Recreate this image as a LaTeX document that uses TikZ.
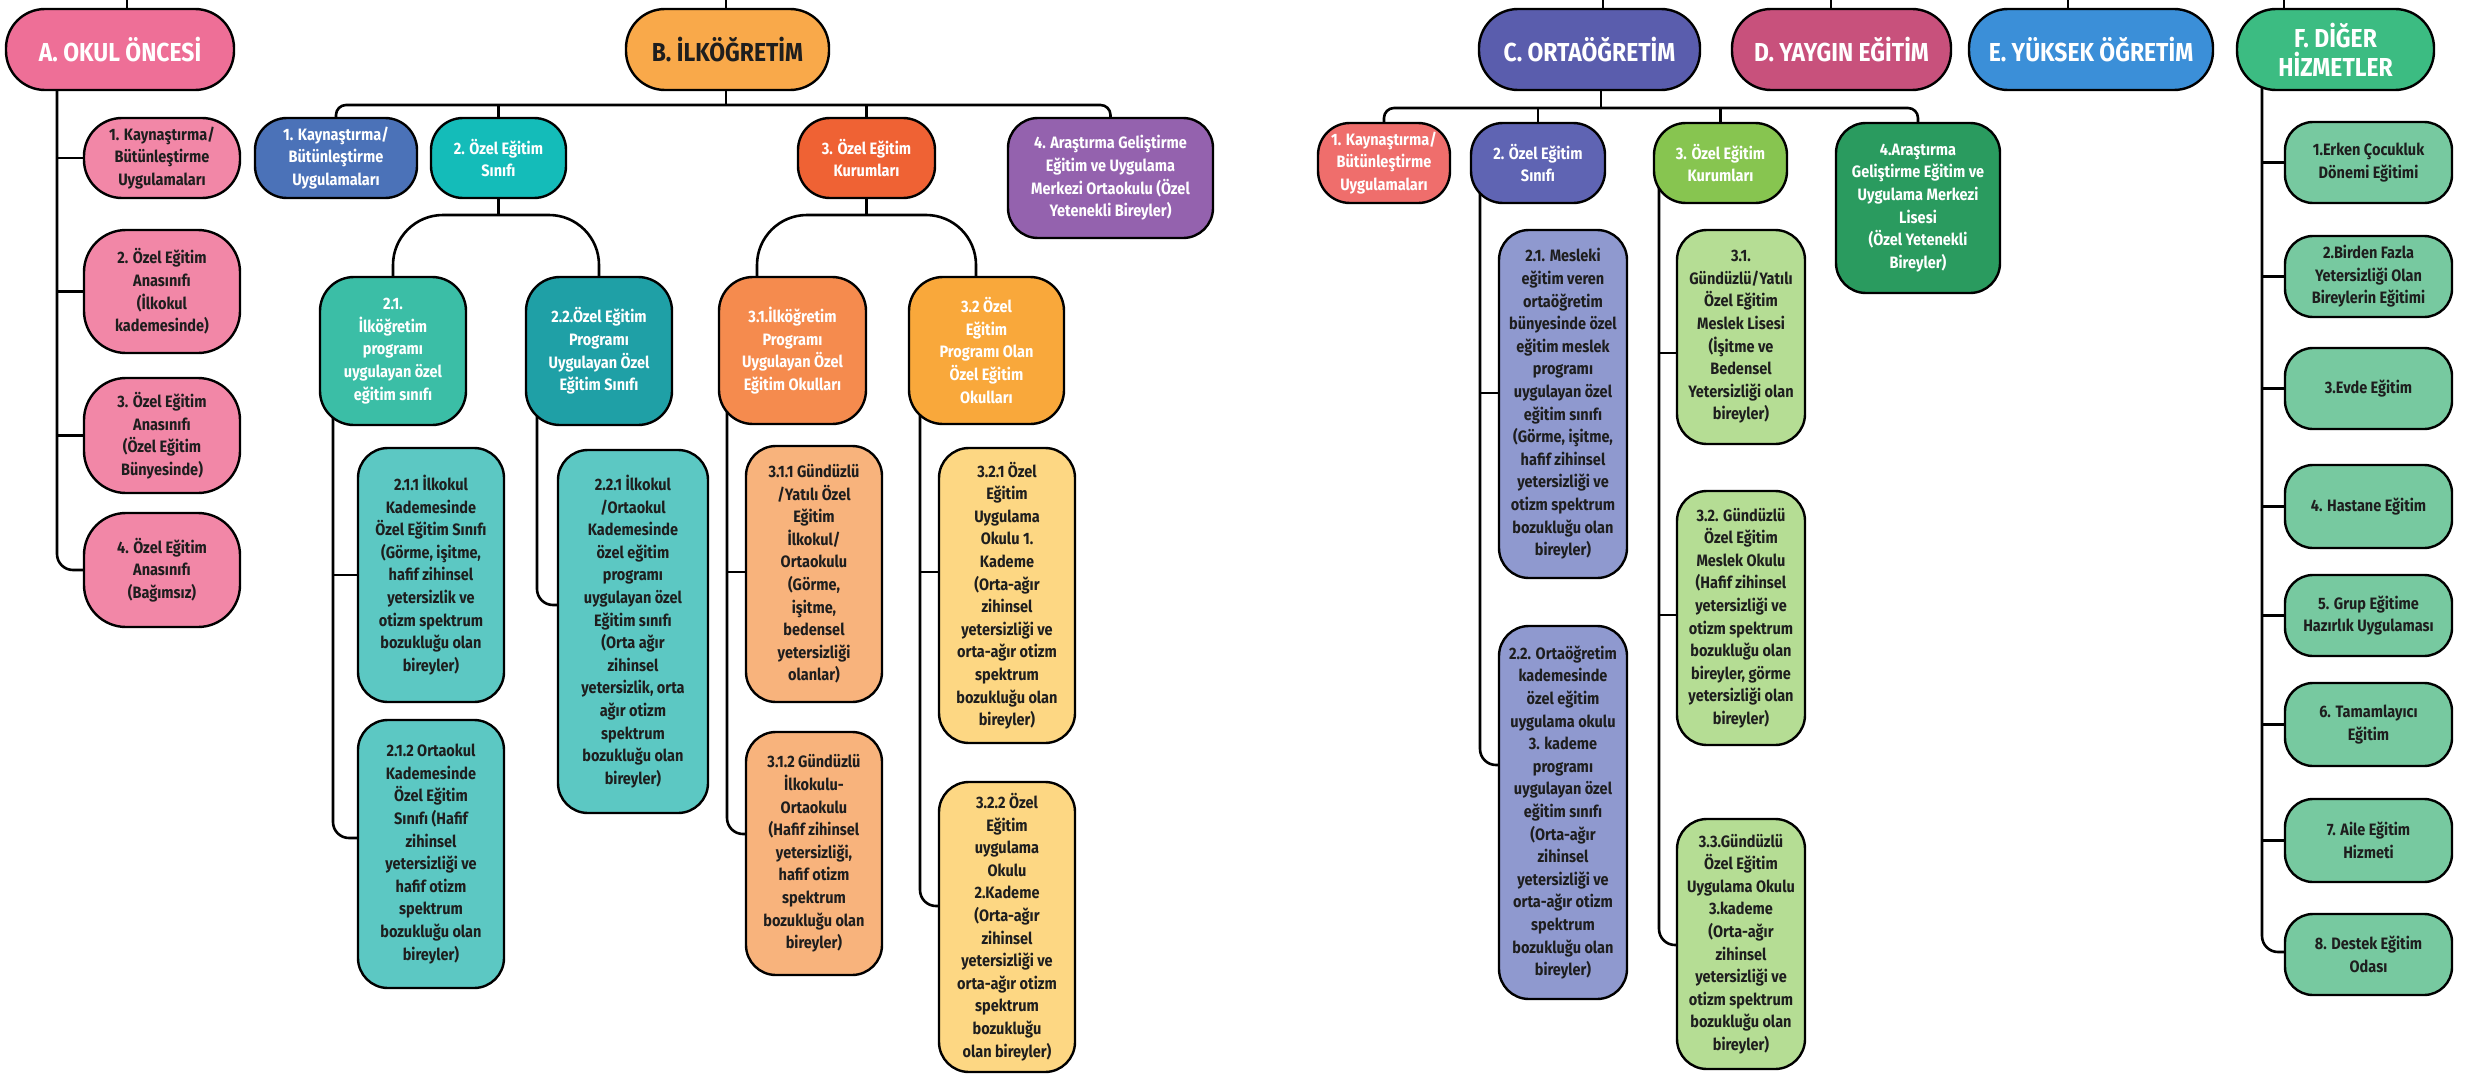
\documentclass[tikz,border=0pt]{standalone}
\usepackage{fontspec}
\setmainfont{Fira Sans}[FakeStretch=0.88]
\usetikzlibrary{backgrounds}
\definecolor{cA}{HTML}{EE6F97}
\definecolor{cAc}{HTML}{F287A7}
\definecolor{cB}{HTML}{F9A94A}
\definecolor{cBa}{HTML}{4B72B8}
\definecolor{cBb}{HTML}{14BCB9}
\definecolor{cBc}{HTML}{EF6234}
\definecolor{cBd}{HTML}{9462AE}
\definecolor{cBba}{HTML}{3BBEA6}
\definecolor{cBbb}{HTML}{1FA0A6}
\definecolor{cBbx}{HTML}{5CC8C3}
\definecolor{cBca}{HTML}{F58B4E}
\definecolor{cBcb}{HTML}{F9A83B}
\definecolor{cBcax}{HTML}{F8B37C}
\definecolor{cBcbx}{HTML}{FDD783}
\definecolor{cC}{HTML}{5A5DAD}
\definecolor{cD}{HTML}{C8517C}
\definecolor{cE}{HTML}{3B8FD8}
\definecolor{cF}{HTML}{3CBC82}
\definecolor{cCa}{HTML}{EF6E6C}
\definecolor{cCb}{HTML}{5F64B3}
\definecolor{cCc}{HTML}{87C550}
\definecolor{cCd}{HTML}{2A9B5F}
\definecolor{cCbx}{HTML}{8F99CF}
\definecolor{cCcx}{HTML}{B5DD94}
\definecolor{cFx}{HTML}{77C9A0}
\definecolor{txtdark}{HTML}{1E1E1E}
\begin{document}
\begin{tikzpicture}[x=1pt,y=-1pt,
  conn/.style={draw=black, line width=2.6pt},
  box/.style={draw=black, line width=2.4pt, rounded corners=#1, align=center, inner sep=3pt},
  box/.default=30pt,
  sm/.style={font=\fontsize{16.5}{22.6}\selectfont\bfseries},
  lg/.style={font=\fontsize{26}{29}\selectfont\bfseries},
  wt/.style={text=white}, dk/.style={text=txtdark}]
\useasboundingbox (0,0) rectangle (2471,1081);
\begin{scope}[on background layer]
\fill[white] (0,0) rectangle (2471,1081);
\end{scope}

% ---------- top level ----------
\node[box=39pt, lg, wt, fill=cA, minimum width=228pt, minimum height=81pt] (A) at (120,49.5) {A. OKUL ÖNCESİ};
\node[box=39pt, lg, dk, fill=cB, minimum width=203pt, minimum height=81pt] (B) at (727.5,49.5) {B. İLKÖĞRETİM};
\node[box=39pt, lg, wt, fill=cC, minimum width=221pt, minimum height=81pt] (C) at (1589.5,49.5) {C. ORTAÖĞRETİM};
\node[box=39pt, lg, wt, fill=cD, minimum width=219pt, minimum height=81pt] (D) at (1841.5,49.5) {D. YAYGIN EĞİTİM};
\node[box=39pt, lg, wt, fill=cE, minimum width=244pt, minimum height=81pt] (E) at (2091,49.5) {E. YÜKSEK ÖĞRETİM};
\node[box=39pt, lg, wt, fill=cF, minimum width=197pt, minimum height=81pt] (F) at (2335.5,49.5) {F. DİĞER\\HİZMETLER};

% ---------- A children ----------
\node[box=38pt, sm, dk, fill=cAc, minimum width=156pt, minimum height=80pt] (A1) at (162,158) {1. Kaynaştırma/\\Bütünleştirme\\Uygulamaları};
\node[box=42pt, sm, dk, fill=cAc, minimum width=156pt, minimum height=123pt] (A2) at (162,291.5) {2. Özel Eğitim\\Anasınıfı\\(İlkokul\\kademesinde)};
\node[box=42pt, sm, dk, fill=cAc, minimum width=156pt, minimum height=115pt] (A3) at (162,435.5) {3. Özel Eğitim\\Anasınıfı\\(Özel Eğitim\\Bünyesinde)};
\node[box=42pt, sm, dk, fill=cAc, minimum width=156pt, minimum height=114pt] (A4) at (162,570) {4. Özel Eğitim\\Anasınıfı\\(Bağımsız)};

% ---------- B children ----------
\node[box=32pt, sm, wt, fill=cBa, minimum width=162pt, minimum height=80pt] (B1) at (336,158) {1. Kaynaştırma/\\Bütünleştirme\\Uygulamaları};
\node[box=32pt, sm, wt, fill=cBb, minimum width=135pt, minimum height=80pt] (B2) at (498.5,158) {2. Özel Eğitim\\Sınıfı};
\node[box=32pt, sm, wt, fill=cBc, minimum width=137pt, minimum height=80pt] (B3) at (866.5,158) {3. Özel Eğitim\\Kurumları};
\node[box=30pt, sm, wt, fill=cBd, minimum width=205pt, minimum height=120pt] (B4) at (1110.5,178) {4. Araştırma Geliştirme\\Eğitim ve Uygulama\\Merkezi Ortaokulu (Özel\\Yetenekli Bireyler)};

\node[box=34pt, sm, wt, fill=cBba, minimum width=146pt, minimum height=148pt] (B21) at (393,351) {2.1.\\İlköğretim\\programı\\uygulayan özel\\eğitim sınıfı};
\node[box=34pt, sm, wt, fill=cBbb, minimum width=146pt, minimum height=148pt] (B22) at (599,351) {2.2.Özel Eğitim\\Programı\\Uygulayan Özel\\Eğitim Sınıfı};
\node[box=34pt, sm, wt, fill=cBca, minimum width=147pt, minimum height=147pt] (B31) at (792.5,350.5) {3.1.İlköğretim\\Programı\\Uygulayan Özel\\Eğitim Okulları};
\node[box=34pt, sm, wt, fill=cBcb, minimum width=155pt, minimum height=147pt] (B32) at (986.5,350.5) {3.2 Özel\\Eğitim\\Programı Olan\\Özel Eğitim\\Okulları};

\node[box=30pt, sm, dk, fill=cBbx, minimum width=146pt, minimum height=254pt] (B211) at (431,575) {2.1.1 İlkokul\\Kademesinde\\Özel Eğitim Sınıfı\\(Görme, işitme,\\hafif zihinsel\\yetersizlik ve\\otizm spektrum\\bozukluğu olan\\bireyler)};
\node[box=30pt, sm, dk, fill=cBbx, minimum width=146pt, minimum height=268pt] (B212) at (431,854) {2.1.2 Ortaokul\\Kademesinde\\Özel Eğitim\\Sınıfı (Hafif\\zihinsel\\yetersizliği ve\\hafif otizm\\spektrum\\bozukluğu olan\\bireyler)};
\node[box=30pt, sm, dk, fill=cBbx, minimum width=150pt, minimum height=363pt] (B221) at (633,631.5) {2.2.1 İlkokul\\/Ortaokul\\Kademesinde\\özel eğitim\\programı\\uygulayan özel\\Eğitim sınıfı\\(Orta ağır\\zihinsel\\yetersizlik, orta\\ağır otizm\\spektrum\\bozukluğu olan\\bireyler)};
\node[box=30pt, sm, dk, fill=cBcax, minimum width=136pt, minimum height=256pt] (B311) at (814,574) {3.1.1 Gündüzlü\\/Yatılı Özel\\Eğitim\\İlkokul/\\Ortaokulu\\(Görme,\\işitme,\\bedensel\\yetersizliği\\olanlar)};
\node[box=30pt, sm, dk, fill=cBcax, minimum width=136pt, minimum height=243pt] (B312) at (814,853.5) {3.1.2 Gündüzlü\\İlkokulu-\\Ortaokulu\\(Hafif zihinsel\\yetersizliği,\\hafif otizm\\spektrum\\bozukluğu olan\\bireyler)};
\node[box=30pt, sm, dk, fill=cBcbx, minimum width=136pt, minimum height=295pt] (B321) at (1007,595.5) {3.2.1 Özel\\Eğitim\\Uygulama\\Okulu 1.\\Kademe\\(Orta-ağır\\zihinsel\\yetersizliği ve\\orta-ağır otizm\\spektrum\\bozukluğu olan\\bireyler)};
\node[box=30pt, sm, dk, fill=cBcbx, minimum width=136pt, minimum height=290pt] (B322) at (1007,927) {3.2.2 Özel\\Eğitim\\uygulama\\Okulu\\2.Kademe\\(Orta-ağır\\zihinsel\\yetersizliği ve\\orta-ağır otizm\\spektrum\\bozukluğu\\olan bireyler)};

% ---------- C children ----------
\node[box=32pt, sm, wt, fill=cCa, minimum width=132pt, minimum height=80pt] (C1) at (1384,163) {1. Kaynaştırma/\\Bütünleştirme\\Uygulamaları};
\node[box=32pt, sm, wt, fill=cCb, minimum width=134pt, minimum height=80pt] (C2) at (1538,163) {2. Özel Eğitim\\Sınıfı};
\node[box=32pt, sm, wt, fill=cCc, minimum width=133pt, minimum height=80pt] (C3) at (1720.5,163) {3. Özel Eğitim\\Kurumları};
\node[box=30pt, sm, wt, fill=cCd, minimum width=164pt, minimum height=170pt] (C4) at (1918,208) {4.Araştırma\\Geliştirme Eğitim ve\\Uygulama Merkezi\\Lisesi\\(Özel Yetenekli\\Bireyler)};

\node[box=30pt, sm, dk, fill=cCbx, minimum width=128pt, minimum height=348pt] (C21) at (1563,404) {2.1. Mesleki\\eğitim veren\\ortaöğretim\\bünyesinde özel\\eğitim meslek\\programı\\uygulayan özel\\eğitim sınıfı\\(Görme, işitme,\\hafif zihinsel\\yetersizliği ve\\otizm spektrum\\bozukluğu olan\\bireyler)};
\node[box=30pt, sm, dk, fill=cCbx, minimum width=128pt, minimum height=373pt] (C22) at (1563,812.5) {2.2. Ortaöğretim\\kademesinde\\özel eğitim\\uygulama okulu\\3. kademe\\programı\\uygulayan özel\\eğitim sınıfı\\(Orta-ağır\\zihinsel\\yetersizliği ve\\orta-ağır otizm\\spektrum\\bozukluğu olan\\bireyler)};
\node[box=30pt, sm, dk, fill=cCcx, minimum width=128pt, minimum height=214pt] (C31) at (1741,337) {3.1.\\Gündüzlü/Yatılı\\Özel Eğitim\\Meslek Lisesi\\(İşitme ve\\Bedensel\\Yetersizliği olan\\bireyler)};
\node[box=30pt, sm, dk, fill=cCcx, minimum width=128pt, minimum height=254pt] (C32) at (1741,618) {3.2. Gündüzlü\\Özel Eğitim\\Meslek Okulu\\(Hafif zihinsel\\yetersizliği ve\\otizm spektrum\\bozukluğu olan\\bireyler, görme\\yetersizliği olan\\bireyler)};
\node[box=30pt, sm, dk, fill=cCcx, minimum width=128pt, minimum height=250pt] (C33) at (1741,944) {3.3.Gündüzlü\\Özel Eğitim\\Uygulama Okulu\\3.kademe\\(Orta-ağır\\zihinsel\\yetersizliği ve\\otizm spektrum\\bozukluğu olan\\bireyler)};

% ---------- F children ----------
\node[box=28pt, sm, dk, fill=cFx, minimum width=167pt, minimum height=81pt] (F1) at (2368.5,162.5) {1.Erken Çocukluk\\Dönemi Eğitimi};
\node[box=28pt, sm, dk, fill=cFx, minimum width=167pt, minimum height=81pt] (F2) at (2368.5,276.5) {2.Birden Fazla\\Yetersizliği Olan\\Bireylerin Eğitimi};
\node[box=28pt, sm, dk, fill=cFx, minimum width=167pt, minimum height=81pt] (F3) at (2368.5,388.5) {3.Evde Eğitim};
\node[box=28pt, sm, dk, fill=cFx, minimum width=167pt, minimum height=83pt] (F4) at (2368.5,506.5) {4. Hastane Eğitim};
\node[box=28pt, sm, dk, fill=cFx, minimum width=167pt, minimum height=81pt] (F5) at (2368.5,615.5) {5. Grup Eğitime\\Hazırlık Uygulaması};
\node[box=28pt, sm, dk, fill=cFx, minimum width=167pt, minimum height=83pt] (F6) at (2368.5,724.5) {6. Tamamlayıcı\\Eğitim};
\node[box=28pt, sm, dk, fill=cFx, minimum width=167pt, minimum height=83pt] (F7) at (2368.5,840.5) {7. Aile Eğitim\\Hizmeti};
\node[box=28pt, sm, dk, fill=cFx, minimum width=167pt, minimum height=81pt] (F8) at (2368.5,954.5) {8. Destek Eğitim\\Odası};

% ---------- helper coordinates ----------
\coordinate (tA) at (127,0);
\coordinate (tB) at (726,0);
\coordinate (tC) at (1603,0);
\coordinate (tD) at (1831,0);
\coordinate (tE) at (2068,0);
\coordinate (tF) at (2284,0);
\coordinate (Atr) at (57,0);
\coordinate (Bj) at (726,105);
\coordinate (B2s) at (498.5,215);
\coordinate (B3s) at (866.5,215);
\coordinate (B3L) at (757,0);
\coordinate (B3R) at (976,0);
\coordinate (B21t) at (333,0);
\coordinate (B22t) at (537,0);
\coordinate (B31t) at (727,0);
\coordinate (B32t) at (920,0);
\coordinate (Cj) at (1601,108);
\coordinate (C2t) at (1480,0);
\coordinate (C3t) at (1659,0);
\coordinate (Ft) at (2262,0);
\coordinate (jB212) at (0,838);
\coordinate (jB221) at (0,605);
\coordinate (jB311) at (0,572);
\coordinate (jB312) at (0,834);
\coordinate (jB321) at (0,572);
\coordinate (jB322) at (0,906);
\coordinate (jC21) at (0,393);
\coordinate (jC22) at (0,765);
\coordinate (jC31) at (0,353);
\coordinate (jC32) at (0,615);
\coordinate (jC33) at (0,945);
\coordinate (jF8) at (0,952);

% ---------- connectors ----------
\begin{scope}[on background layer]
% lines leaving the top edge
\draw[conn] (A.center -| tA) -- (tA);
\draw[conn] (B.center -| tB) -- (tB);
\draw[conn] (C.center -| tC) -- (tC);
\draw[conn] (D.center -| tD) -- (tD);
\draw[conn] (E.center -| tE) -- (tE);
\draw[conn] (F.center -| tF) -- (tF);
% A
\draw[conn, rounded corners=16pt] (A.center -| Atr) |- (A4.west);
\draw[conn] (Atr |- A1.west) -- (A1.west);
\draw[conn] (Atr |- A2.west) -- (A2.west);
\draw[conn] (Atr |- A3.west) -- (A3.west);
% B
\draw[conn] (B.center -| Bj) -- (Bj);
\draw[conn, rounded corners=10pt] (B1.center) |- (Bj) -| (B4.center);
\draw[conn] (B2.center) -- (B2.center |- Bj);
\draw[conn] (B3.center) -- (B3.center |- Bj);
\draw[conn] (B2.center) -- (B2s);
\draw[conn, rounded corners=50pt] (B21.center) |- (B2s) -| (B22.center);
\draw[conn] (B3.center) -- (B3s);
\draw[conn, rounded corners=50pt] (B31.center -| B3L) |- (B3s) -| (B32.center -| B3R);
\draw[conn, rounded corners=16pt] (B21.center -| B21t) |- (B212.west |- jB212);
\draw[conn] (B21t |- B211.west) -- (B211.west);
\draw[conn, rounded corners=16pt] (B22.center -| B22t) |- (B221.west |- jB221);
\draw[conn, rounded corners=16pt] (B31.center -| B31t) |- (B312.west |- jB312);
\draw[conn] (B31t |- jB311) -- (B311.west |- jB311);
\draw[conn, rounded corners=16pt] (B32.center -| B32t) |- (B322.west |- jB322);
\draw[conn] (B32t |- jB321) -- (B321.west |- jB321);
% C
\draw[conn] (C.center -| Cj) -- (Cj);
\draw[conn, rounded corners=10pt] (C1.center) |- (Cj) -| (C4.center);
\draw[conn] (C2.center) -- (C2.center |- Cj);
\draw[conn] (C3.center) -- (C3.center |- Cj);
\draw[conn, rounded corners=16pt] (C2.center -| C2t) |- (C22.west |- jC22);
\draw[conn] (C2t |- jC21) -- (C21.west |- jC21);
\draw[conn, rounded corners=16pt] (C3.center -| C3t) |- (C33.west |- jC33);
\draw[conn] (C3t |- jC31) -- (C31.west |- jC31);
\draw[conn] (C3t |- jC32) -- (C32.west |- jC32);
% F
\draw[conn, rounded corners=16pt] (F.center -| Ft) |- (F8.west |- jF8);
\draw[conn] (Ft |- F1.west) -- (F1.west);
\draw[conn] (Ft |- F2.west) -- (F2.west);
\draw[conn] (Ft |- F3.west) -- (F3.west);
\draw[conn] (Ft |- F4.west) -- (F4.west);
\draw[conn] (Ft |- F5.west) -- (F5.west);
\draw[conn] (Ft |- F6.west) -- (F6.west);
\draw[conn] (Ft |- F7.west) -- (F7.west);
\end{scope}
\end{tikzpicture}
\end{document}
